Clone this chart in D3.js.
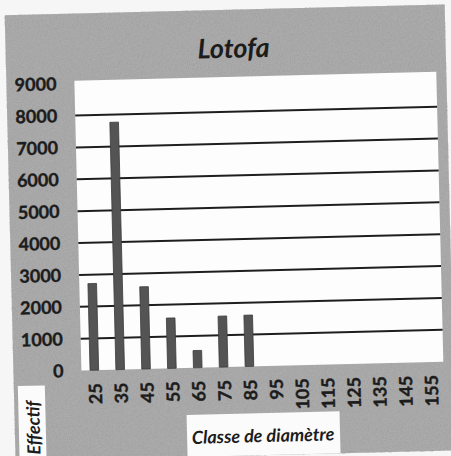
<!DOCTYPE html>
<html>
<head>
<meta charset="utf-8">
<script src="https://cdn.jsdelivr.net/npm/d3@7"></script>
<style>
  html, body { margin: 0; padding: 0; background: #f6f6f6; }
  svg { display: block; }
  text { font-family: Lato, "Open Sans", sans-serif; fill: #1c1c1c; }
</style>
</head>
<body>
<svg id="chart" width="451" height="456"></svg>
<script>
// Lotofa - effectif par classe de diamètre
const classes = ["25", "35", "45", "55", "65", "75", "85", "95", "105", "115", "125", "135", "145", "155"];
const effectifs = [2720, 7760, 2580, 1580, 540, 1600, 1610, 0, 0, 0, 0, 0, 0, 0];
const yTicks = [0, 1000, 2000, 3000, 4000, 5000, 6000, 7000, 8000, 9000];
const title = "Lotofa";
const xTitle = "Classe de diamètre";
const yTitle = "Effectif";

const svg = d3.select("#chart");
const width = 451, height = 456;

// the scan is slightly tilted, so the whole chart gets a small rotation
const root = svg.append("g").attr("transform", `rotate(-1.4, ${width / 2}, ${height / 2})`);

// grain filter for the grey background
const defs = svg.append("defs");
const grain = defs.append("filter").attr("id", "grain")
  .attr("x", 0).attr("y", 0).attr("width", 1).attr("height", 1);
grain.append("feTurbulence").attr("type", "fractalNoise")
  .attr("baseFrequency", 0.9).attr("numOctaves", 2).attr("seed", 3);
grain.append("feColorMatrix").attr("type", "matrix")
  .attr("values", "0 0 0 0 0.3  0 0 0 0 0.3  0 0 0 0 0.3  1.3 0 0 0 -0.5");

root.append("rect")
  .attr("x", 10).attr("y", 10)
  .attr("width", 440).attr("height", 446)
  .attr("fill", "#ababab");
root.append("rect")
  .attr("x", 10).attr("y", 10)
  .attr("width", 440).attr("height", 446)
  .attr("fill", "#000")
  .attr("filter", "url(#grain)");

const plot = { left: 78, right: 440, top: 77, bottom: 367 };

const x = d3.scaleBand()
  .domain(classes)
  .range([plot.left, plot.right])
  .paddingInner(0.667)
  .paddingOuter(0.333);

const y = d3.scaleLinear()
  .domain([0, 9000])
  .range([367, 80]);

// white plot area
root.append("rect")
  .attr("x", plot.left).attr("y", plot.top)
  .attr("width", plot.right - plot.left)
  .attr("height", plot.bottom - plot.top)
  .attr("fill", "#fdfdfd");

// horizontal gridlines (no line at 0 and 9000 in the original)
root.append("g")
  .selectAll("line")
  .data(yTicks.filter((d) => d > 0 && d < 9000))
  .join("line")
  .attr("x1", plot.left)
  .attr("x2", plot.right)
  .attr("y1", (d) => y(d))
  .attr("y2", (d) => y(d))
  .attr("stroke", "#1e1e1e")
  .attr("stroke-width", 2);

// bars
root.append("g")
  .selectAll("rect")
  .data(classes.map((c, i) => ({ c, v: effectifs[i] })).filter((d) => d.v > 0))
  .join("rect")
  .attr("x", (d) => x(d.c))
  .attr("width", x.bandwidth())
  .attr("y", (d) => y(d.v))
  .attr("height", (d) => y(0) - y(d.v))
  .attr("fill", "#545454")
  .attr("stroke", "#3c3c3c")
  .attr("stroke-width", 0.8);

// y tick labels
const yAxis = d3.axisLeft(y).tickValues(yTicks).tickFormat(d3.format("d")).tickSize(0).tickPadding(18);
const yg = root.append("g")
  .attr("transform", `translate(${plot.left},0)`)
  .call(yAxis);
yg.select(".domain").remove();
yg.selectAll("text")
  .attr("font-family", "Lato, sans-serif")
  .attr("font-size", 18)
  .attr("font-weight", "bold")
  .attr("fill", "#1c1c1c")
  .attr("stroke", "#1c1c1c")
  .attr("stroke-width", 0.4);

// x tick labels, rotated
const xAxis = d3.axisBottom(x).tickSize(0).tickPadding(0);
const xg = root.append("g")
  .attr("transform", `translate(0,${plot.bottom})`)
  .call(xAxis);
xg.select(".domain").remove();
xg.selectAll("text")
  .attr("font-family", "Lato, sans-serif")
  .attr("font-size", 18)
  .attr("font-weight", "bold")
  .attr("fill", "#1c1c1c")
  .attr("stroke", "#1c1c1c")
  .attr("stroke-width", 0.4)
  .attr("text-anchor", "end")
  .attr("dy", null)
  .attr("y", null)
  .attr("dominant-baseline", "central")
  .attr("transform", "translate(0,13) rotate(-90)");

// title
root.append("text")
  .attr("x", 238)
  .attr("y", 58)
  .attr("text-anchor", "middle")
  .attr("font-size", 27)
  .attr("font-weight", "bold")
  .attr("font-style", "italic")
  .text(title);

// x axis title in its white box
root.append("rect")
  .attr("x", 182).attr("y", 414)
  .attr("width", 153).attr("height", 42)
  .attr("fill", "#fbfbfb");
root.append("text")
  .attr("x", 258)
  .attr("y", 443)
  .attr("text-anchor", "middle")
  .attr("font-size", 18)
  .attr("font-weight", "bold")
  .attr("font-style", "italic")
  .text(xTitle);

// y axis title in its white box, reads bottom to top
root.append("rect")
  .attr("x", 14).attr("y", 381)
  .attr("width", 27).attr("height", 80)
  .attr("fill", "#fbfbfb");
root.append("text")
  .attr("transform", "translate(28,450) rotate(-90)")
  .attr("text-anchor", "start")
  .attr("dominant-baseline", "central")
  .attr("font-size", 18)
  .attr("font-weight", "bold")
  .attr("font-style", "italic")
  .text(yTitle);
</script>
</body>
</html>
